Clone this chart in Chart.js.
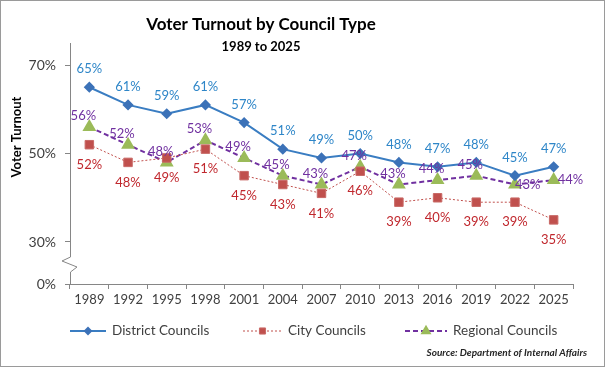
<!DOCTYPE html>
<html>
<head>
<meta charset="utf-8">
<script src="https://cdn.jsdelivr.net/npm/chart.js@4.4.1/dist/chart.umd.min.js"></script>
<style>
  html, body { margin: 0; padding: 0; background: #fff; }
  #wrap { width: 605px; height: 367px; position: relative; }
</style>
</head>
<body>
<div id="wrap"><canvas id="turnout-chart" width="605" height="367"></canvas></div>
<script>
// Election years and turnout (%) per council type
const years = ['1989', '1992', '1995', '1998', '2001', '2004', '2007', '2010', '2013', '2016', '2019', '2022', '2025'];
const districtCouncils = [65, 61, 59, 61, 57, 51, 49, 50, 48, 47, 48, 45, 47];
const cityCouncils = [52, 48, 49, 51, 45, 43, 41, 46, 39, 40, 39, 39, 35];
const regionalCouncils = [56, 52, 48, 53, 49, 45, 43, 47, 43, 44, 45, 43, 44];

// Y axis ticks (0% sits below the axis break)
const yTickValues = [0, 30, 50, 70];
const yTickLabels = ['0%', '30%', '50%', '70%'];

const FONT = "Lato, 'Open Sans', sans-serif";
const BREAK_VALUE = 20.5; // where "0%" is drawn on the broken axis
const AXIS_GREY = '#868686';

// Draws titles, value labels, legend, axis break and the source note
const decorations = {
    id: 'decorations',
    afterDatasetsDraw(chart) {
        const ctx = chart.ctx;
        ctx.save();
        ctx.font = '13px ' + FONT;
        ctx.textBaseline = 'middle';
        chart.data.datasets.forEach((ds, di) => {
            const meta = chart.getDatasetMeta(di);
            meta.data.forEach((pt, i) => {
                let x = pt.x, y = pt.y;
                ctx.textAlign = 'center';
                if (di === 0) {
                    y -= 18;
                } else if (di === 1) {
                    y += 20;
                } else if (i >= ds.data.length - 2) {
                    ctx.textAlign = 'left';
                    x += (i === ds.data.length - 1) ? 4 : 0;
                } else {
                    x -= 6;
                    y -= 11;
                }
                ctx.fillStyle = ds.labelColor;
                ctx.fillText(ds.data[i] + '%', x, y);
            });
        });
        ctx.restore();
    },
    afterDraw(chart) {
        const ctx = chart.ctx;
        const area = chart.chartArea;
        ctx.save();

        // outer frame
        ctx.strokeStyle = '#9a9a9a';
        ctx.lineWidth = 1;
        ctx.strokeRect(0.5, 0.5, chart.width - 1, chart.height - 1);

        // titles
        ctx.fillStyle = '#000';
        ctx.textAlign = 'center';
        ctx.textBaseline = 'middle';
        ctx.font = 'bold 17px ' + FONT;
        ctx.fillText('Voter Turnout by Council Type', 261, 25);
        ctx.font = 'bold 13px ' + FONT;
        ctx.fillText('1989 to 2025', 261, 47);

        // y axis title
        ctx.save();
        ctx.translate(17, 137);
        ctx.rotate(-Math.PI / 2);
        ctx.font = 'bold 13px ' + FONT;
        ctx.fillText('Voter Turnout', 0, 0);
        ctx.restore();

        // axis break
        const ax = area.left + 0.5;
        ctx.fillStyle = '#fff';
        ctx.fillRect(ax - 2, 256, 4, 17);
        ctx.strokeStyle = AXIS_GREY;
        ctx.beginPath();
        ctx.moveTo(ax, 255);
        ctx.lineTo(ax, 257);
        ctx.lineTo(62, 261);
        ctx.lineTo(77, 267);
        ctx.lineTo(ax, 272);
        ctx.lineTo(ax, 274);
        ctx.stroke();

        // legend
        const legendY = 331;
        const items = [
            { ds: chart.data.datasets[0], x: 70, w: 36, label: 'District Councils' },
            { ds: chart.data.datasets[1], x: 243, w: 39, label: 'City Councils' },
            { ds: chart.data.datasets[2], x: 405, w: 42, label: 'Regional Councils' }
        ];
        items.forEach(it => {
            ctx.save();
            ctx.strokeStyle = it.ds.borderColor;
            ctx.lineWidth = it.ds.borderWidth;
            ctx.setLineDash(it.ds.borderDash || []);
            ctx.beginPath();
            ctx.moveTo(it.x, legendY);
            ctx.lineTo(it.x + it.w, legendY);
            ctx.stroke();
            ctx.setLineDash([]);
            ctx.fillStyle = it.ds.pointBackgroundColor;
            ctx.strokeStyle = it.ds.pointBorderColor;
            Chart.helpers.drawPoint(ctx, {
                pointStyle: it.ds.pointStyle,
                radius: it.ds.pointRadius * 0.72,
                borderWidth: 1
            }, it.x + it.w / 2, legendY);
            ctx.restore();
            ctx.fillStyle = '#404040';
            ctx.font = '13.5px ' + FONT;
            ctx.textAlign = 'left';
            ctx.textBaseline = 'middle';
            ctx.fillText(it.label, it.x + it.w + 6, legendY);
        });

        // source note
        ctx.font = 'italic bold 10px ' + FONT;
        ctx.fillStyle = '#262626';
        ctx.textAlign = 'right';
        ctx.fillText('Source: Department of Internal Affairs', 587, 353);
        ctx.restore();
    }
};

function drawTurnoutChart() {
    const ctx = document.getElementById('turnout-chart').getContext('2d');
    new Chart(ctx, {
        type: 'line',
        data: {
            labels: years,
            datasets: [
                {
                    label: 'District Councils',
                    data: districtCouncils,
                    borderColor: '#3A7DC2',
                    borderWidth: 2,
                    pointStyle: 'rectRot',
                    pointRadius: 4.2,
                    pointBackgroundColor: '#3C72B8',
                    pointBorderColor: '#3C72B8',
                    labelColor: '#2E86C8'
                },
                {
                    label: 'City Councils',
                    data: cityCouncils,
                    borderColor: '#C0504D',
                    borderWidth: 1,
                    borderDash: [2, 2],
                    pointStyle: 'rect',
                    pointRadius: 6,
                    pointBackgroundColor: '#C0504D',
                    pointBorderColor: '#C96A67',
                    labelColor: '#C0272D'
                },
                {
                    label: 'Regional Councils',
                    data: regionalCouncils,
                    borderColor: '#7030A0',
                    borderWidth: 2,
                    borderDash: [5, 3],
                    pointStyle: 'triangle',
                    pointRadius: 6,
                    pointBackgroundColor: '#9BBB59',
                    pointBorderColor: '#9BBB59',
                    labelColor: '#7030A0'
                }
            ]
        },
        options: {
            responsive: false,
            animation: false,
            layout: { padding: { top: 43, right: 32, bottom: 53, left: 0 } },
            plugins: {
                legend: { display: false },
                title: { display: false },
                tooltip: { enabled: false }
            },
            scales: {
                x: {
                    offset: true,
                    afterFit: scale => { scale.height = 30; },
                    border: { color: AXIS_GREY },
                    grid: { offset: true, drawOnChartArea: false, tickLength: 5, color: AXIS_GREY },
                    ticks: { color: '#404040', font: { family: FONT, size: 13 }, padding: 3, maxRotation: 0 }
                },
                y: {
                    min: BREAK_VALUE,
                    max: 75,
                    afterFit: scale => { scale.width = 70; },
                    afterBuildTicks: scale => {
                        scale.ticks = yTickValues.map(v => ({ value: v === 0 ? BREAK_VALUE : v }));
                    },
                    border: { color: AXIS_GREY },
                    grid: { drawOnChartArea: false, tickLength: 5, color: AXIS_GREY },
                    ticks: {
                        color: '#404040',
                        font: { family: FONT, size: 14 },
                        padding: 9,
                        callback: (value, index) => yTickLabels[index]
                    }
                }
            }
        },
        plugins: [decorations]
    });
}

drawTurnoutChart();
</script>
</body>
</html>
